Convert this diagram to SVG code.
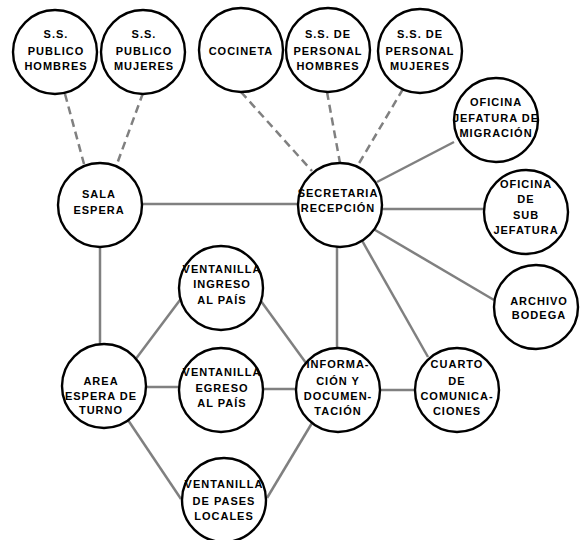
<svg xmlns="http://www.w3.org/2000/svg" width="581" height="540" viewBox="0 0 581 540">
<style>
.n{fill:#fff;stroke:#000;stroke-width:2.4}
.t{font-family:"Liberation Sans",Arial,sans-serif;font-weight:bold;font-size:11px;letter-spacing:1px;text-anchor:middle;fill:#000}
.c{stroke:#808080;stroke-width:2.5;fill:none}
.d{stroke-dasharray:8 5}
</style>
<rect width="581" height="540" fill="#fff"/>
<g id="connectors">
<line class="c d" x1="65" y1="94" x2="84" y2="164"/>
<line class="c d" x1="143" y1="93" x2="117" y2="164"/>
<line class="c d" x1="241" y1="92" x2="312" y2="171"/>
<line class="c d" x1="327" y1="92" x2="340" y2="163"/>
<line class="c d" x1="403" y1="89" x2="358" y2="165"/>
<line class="c" x1="143" y1="204" x2="298" y2="204"/>
<line class="c" x1="377" y1="182" x2="454" y2="142"/>
<line class="c" x1="382" y1="209" x2="485" y2="209"/>
<line class="c" x1="370" y1="227" x2="494" y2="300"/>
<line class="c" x1="337" y1="246" x2="337" y2="348"/>
<line class="c" x1="360" y1="237" x2="428" y2="357"/>
<line class="c" x1="100" y1="247" x2="100" y2="344"/>
<line class="c" x1="135" y1="360" x2="183" y2="296"/>
<line class="c" x1="258" y1="297" x2="306" y2="363"/>
<line class="c" x1="146" y1="387" x2="180" y2="387"/>
<line class="c" x1="260" y1="389" x2="297" y2="389"/>
<line class="c" x1="380" y1="390" x2="416" y2="390"/>
<line class="c" x1="128" y1="420" x2="181" y2="499"/>
<line class="c" x1="312" y1="423" x2="267" y2="498"/>
</g>
<g id="pub_h"><circle class="n" cx="55" cy="52" r="42"/><text class="t"><tspan x="56" y="38">S.S.</tspan><tspan x="56" y="54.5">PUBLICO</tspan><tspan x="56" y="70">HOMBRES</tspan></text></g>
<g id="pub_m"><circle class="n" cx="143" cy="52" r="42"/><text class="t"><tspan x="144" y="38">S.S.</tspan><tspan x="144" y="54.5">PUBLICO</tspan><tspan x="144" y="70">MUJERES</tspan></text></g>
<g id="cocineta"><circle class="n" cx="241" cy="50" r="42"/><text class="t" x="241" y="55">COCINETA</text></g>
<g id="per_h"><circle class="n" cx="328" cy="50" r="42"/><text class="t"><tspan x="328" y="38">S.S. DE</tspan><tspan x="328" y="54.5">PERSONAL</tspan><tspan x="328" y="70">HOMBRES</tspan></text></g>
<g id="per_m"><circle class="n" cx="420" cy="51" r="42"/><text class="t"><tspan x="420" y="38">S.S. DE</tspan><tspan x="420" y="54.5">PERSONAL</tspan><tspan x="420" y="70">MUJERES</tspan></text></g>
<g id="jefatura"><circle class="n" cx="496" cy="120" r="42"/><text class="t"><tspan x="496" y="106">OFICINA</tspan><tspan x="496" y="122">JEFATURA DE</tspan><tspan x="496" y="137">MIGRACIÓN</tspan></text></g>
<g id="sala"><circle class="n" cx="100" cy="205" r="42"/><text class="t"><tspan x="99" y="198">SALA</tspan><tspan x="99" y="214">ESPERA</tspan></text></g>
<g id="secretaria"><circle class="n" cx="340" cy="205" r="42"/><text class="t"><tspan x="338" y="197">SECRETARIA</tspan><tspan x="338" y="212">RECEPCIÓN</tspan></text></g>
<g id="subjefatura"><circle class="n" cx="526" cy="212" r="42"/><text class="t"><tspan x="526" y="188">OFICINA</tspan><tspan x="526" y="203">DE</tspan><tspan x="526" y="219">SUB</tspan><tspan x="526" y="234">JEFATURA</tspan></text></g>
<g id="archivo"><circle class="n" cx="536" cy="307" r="42"/><text class="t"><tspan x="539" y="305">ARCHIVO</tspan><tspan x="539" y="319">BODEGA</tspan></text></g>
<g id="ingreso"><circle class="n" cx="221" cy="288" r="42"/><text class="t"><tspan x="222" y="273">VENTANILLA</tspan><tspan x="222" y="288">INGRESO</tspan><tspan x="222" y="304">AL PAÍS</tspan></text></g>
<g id="area"><circle class="n" cx="104" cy="386" r="42"/><text class="t"><tspan x="101" y="385">AREA</tspan><tspan x="101" y="400">ESPERA DE</tspan><tspan x="101" y="414">TURNO</tspan></text></g>
<g id="egreso"><circle class="n" cx="221" cy="390" r="42"/><text class="t"><tspan x="222" y="376">VENTANILLA</tspan><tspan x="222" y="392">EGRESO</tspan><tspan x="222" y="407">AL PAÍS</tspan></text></g>
<g id="info"><circle class="n" cx="338" cy="390" r="42"/><text class="t"><tspan x="338" y="368">INFORMA-</tspan><tspan x="338" y="385">CIÓN Y</tspan><tspan x="338" y="400">DOCUMEN-</tspan><tspan x="338" y="415">TACIÓN</tspan></text></g>
<g id="cuarto"><circle class="n" cx="457" cy="390" r="42"/><text class="t"><tspan x="457" y="368">CUARTO</tspan><tspan x="457" y="385">DE</tspan><tspan x="457" y="400">COMUNICA-</tspan><tspan x="457" y="415">CIONES</tspan></text></g>
<g id="pases"><circle class="n" cx="224" cy="500" r="42"/><text class="t"><tspan x="224" y="488">VENTANILLA</tspan><tspan x="224" y="505">DE PASES</tspan><tspan x="224" y="520">LOCALES</tspan></text></g>
</svg>
